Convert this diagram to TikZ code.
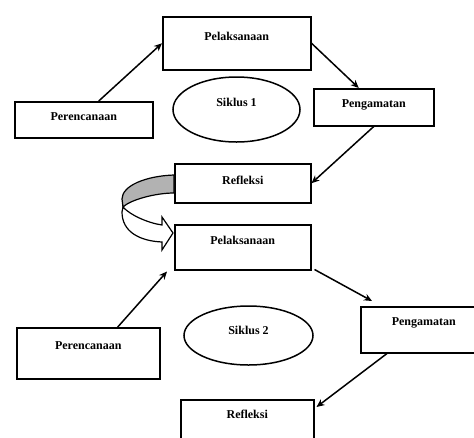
\documentclass[tikz,border=0pt]{standalone}
\usepackage{fontspec}
\setmainfont{Liberation Serif}
\usetikzlibrary{arrows.meta,shapes.geometric}
\begin{document}
\begin{tikzpicture}[x=1pt, y=-1pt, line width=1.5pt, >={Stealth[length=8pt, width=7pt]},
  box/.style = {draw, rectangle, inner sep=0pt, anchor=north west, font=\fontsize{12}{14}\selectfont\bfseries},
  cycle/.style = {draw, ellipse, inner sep=0pt, font=\fontsize{12}{14}\selectfont\bfseries}]
\useasboundingbox (0,0) rectangle (474,437);
\clip (0,0) rectangle (474,437);
% siklus 1
\node[box, minimum width=148pt, text height=23.5pt, text depth=29.5pt] (pel1) at (162,16) {Pelaksanaan};
\node[box, minimum width=138pt, text height=18.5pt, text depth=17.5pt] (per1) at (14,101) {Perencanaan};
\node[box, minimum width=120pt, text height=18.5pt, text depth=18.5pt] (pen1) at (313,88) {Pengamatan};
\node[box, minimum width=136pt, text height=20.5pt, text depth=18.5pt] (ref1) at (174,163) {Refleksi};
\node[cycle, minimum width=127pt, minimum height=65pt, text height=8pt, text depth=14pt] (sik1) at (236.5,109.5) {Siklus 1};
\draw[->] ([xshift=15pt]per1.north) -- (pel1.west);
\draw[->] (pel1.east) -- ([xshift=-15pt]pen1.north);
\draw[->] (pen1.south) -- (ref1.east);
% siklus 2
\node[box, minimum width=136pt, text height=19.5pt, text depth=25.5pt] (pel2) at (174,224) {Pelaksanaan};
\node[box, minimum width=143pt, text height=21.5pt, text depth=29.5pt] (per2) at (16,327) {Perencanaan};
\node[box, minimum width=126pt, text height=18.5pt, text depth=27.5pt] (pen2) at (360,306) {Pengamatan};
\node[box, minimum width=133pt, text height=18.5pt, text depth=32.5pt] (ref2) at (180,399) {Refleksi};
\node[cycle, minimum width=129pt, minimum height=59pt, text height=8pt, text depth=10pt] (sik2) at (248.5,335.5) {Siklus 2};
\draw[->] ([xshift=29.5pt]per2.north) -- ([xshift=-7pt, yshift=-1pt]pel2.south west);
\draw[->] ([xshift=3pt, yshift=1pt]pel2.south east) -- ([xshift=12pt, yshift=5pt]pen2.north west);
\draw[->] ([xshift=27pt]pen2.south west) -- ([xshift=2pt, yshift=-8pt]ref2.north east);
% panah lengkung refleksi -> pelaksanaan
\draw[fill=black!30, line width=1.2pt] (174,175) .. controls (145,176) and (122,186) .. (122,199)
  -- (123,207) .. controls (130,200) and (155,193) .. (174,193) -- cycle;
\draw[fill=white, line width=1.2pt] (123,207) .. controls (130,215) and (148,223) .. (162,225)
  -- (162,217) -- (173,233) -- (162,250) -- (162,242)
  .. controls (140,241) and (122,232) .. (122,212) -- cycle;
\end{tikzpicture}
\end{document}
